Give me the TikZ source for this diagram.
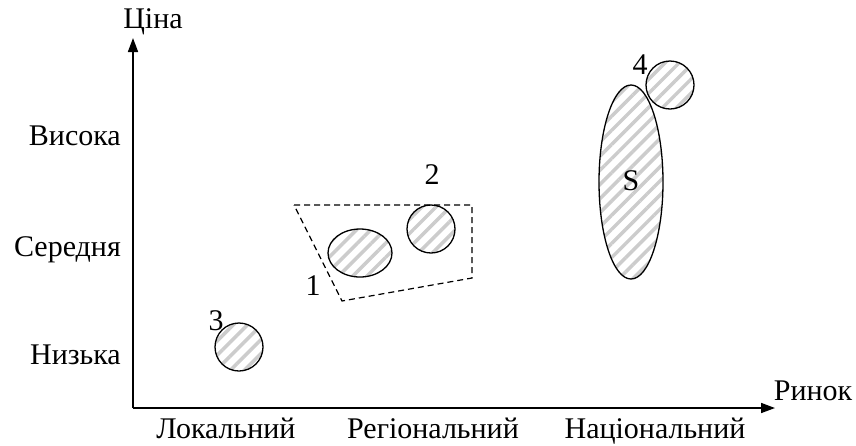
\documentclass[tikz,border=0pt]{standalone}
\usepackage{fontspec}
\setmainfont{Liberation Serif}
\usetikzlibrary{arrows.meta,patterns.meta}
\tikzset{
  lbl/.style={font=\fontsize{30}{34}\selectfont, inner sep=0pt, anchor=base},
  axis/.style={line width=1.6pt, -{Triangle[length=14pt,width=10pt]}},
  blob/.style={draw, line width=1.3pt, fill=white,
    pattern={Lines[angle=45,distance=10pt,line width=3.5pt]}, pattern color=black!20},
  zone/.style={draw, line width=1.2pt, dash pattern=on 6pt off 4pt}
}
\begin{document}
\begin{tikzpicture}[x=1pt,y=-1pt]
\useasboundingbox (0,0) rectangle (856,445);
\coordinate (o) at (133,408);
\coordinate (ytip) at (133,38);
\coordinate (xtip) at (775,408);
\draw[axis] (o) -- (ytip);
\draw[axis] (o) -- (xtip);
\node[lbl] (yl) at (153,28) {Ціна};
\node[lbl] (xl) at (813,400) {Ринок};
\node[lbl, anchor=base east] (hi) at (121,145) {Висока};
\node[lbl, anchor=base east] (mid) at (121,256) {Середня};
\node[lbl, anchor=base east] (lo) at (121,364) {Низька};
\node[lbl] (loc) at (226,438) {Локальний};
\node[lbl] (reg) at (433,438) {Регіональний};
\node[lbl] (nat) at (655,438) {Національний};
\draw[zone] (294,205) -- (472,205) -- (472,278) -- (342,301) -- cycle;
\draw[blob] (360,253) ellipse [x radius=32, y radius=24];
\draw[blob] (431,229) circle [radius=24];
\draw[blob] (239,347) circle [radius=24];
\draw[blob] (670,85) circle [radius=24];
\draw[blob] (631,182) ellipse [x radius=32, y radius=97];
\node[lbl] (n1) at (313,295) {1};
\node[lbl] (n2) at (432,184) {2};
\node[lbl] (n3) at (216,330) {3};
\node[lbl] (n4) at (640,74) {4};
\node[lbl] (s) at (631,190) {S};
\end{tikzpicture}
\end{document}
